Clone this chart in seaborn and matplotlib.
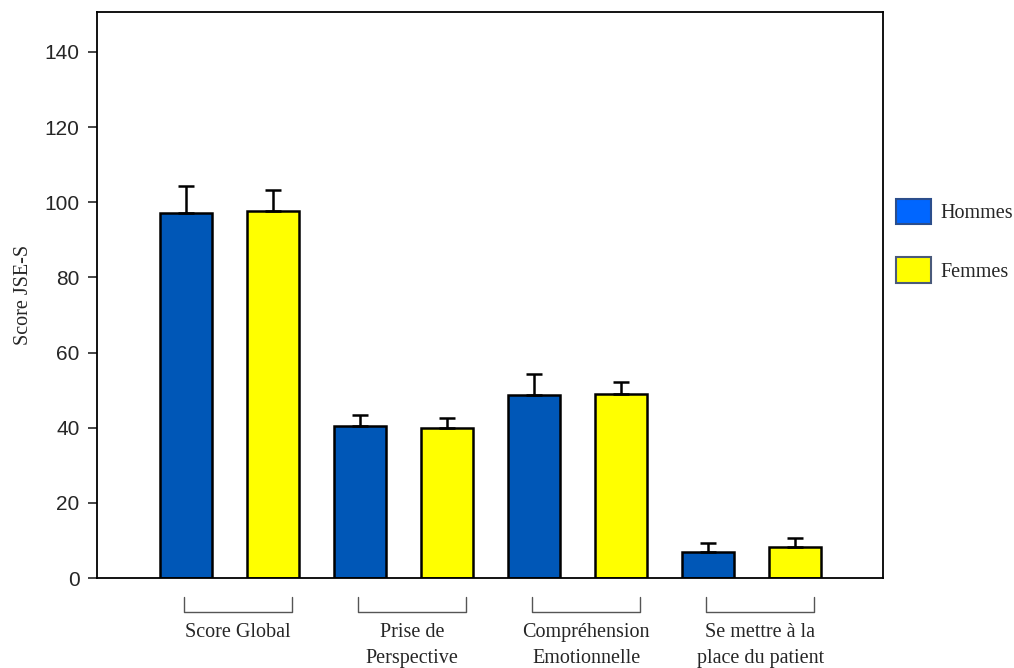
import numpy as np
import pandas as pd
import matplotlib
matplotlib.use("Agg")
import matplotlib.pyplot as plt
from matplotlib.patches import Patch
from matplotlib.transforms import blended_transform_factory
import seaborn as sns

# JSE-S empathy scores by dimension and sex (mean and SD)
dimensions = ["Score Global", "Prise de\nPerspective",
              "Compréhension\nEmotionnelle", "Se mettre à la\nplace du patient"]
groups = ["Hommes", "Femmes"]
hommes_mean = [97.1, 40.5, 48.7, 6.9]
hommes_sd = [7.1, 2.9, 5.6, 2.4]
femmes_mean = [97.7, 39.9, 49.0, 8.3]
femmes_sd = [5.6, 2.7, 3.2, 2.3]
y_ticks = [0, 20, 40, 60, 80, 100, 120, 140]

df = pd.DataFrame({
    "Dimension": dimensions * 2,
    "Sexe": [groups[0]] * 4 + [groups[1]] * 4,
    "Score": hommes_mean + femmes_mean,
})
sds = {groups[0]: hommes_sd, groups[1]: femmes_sd}

sns.set_style("ticks")
plt.rcParams["font.family"] = ["Liberation Serif", "DejaVu Serif"]

bar_blue = "#0057B7"
bar_yellow = "#FFFF00"

fig = plt.figure(figsize=(10.14, 6.68), dpi=100)
ax = fig.add_axes([97 / 1014, 90 / 668, 786 / 1014, 566 / 668])

sns.barplot(data=df, x="Dimension", y="Score", hue="Sexe",
            order=dimensions, hue_order=groups,
            palette=[bar_blue, bar_yellow], saturation=1,
            width=1.0, gap=0.4,
            edgecolor="black", linewidth=1.8, errorbar=None,
            legend=False, ax=ax)

# upward-only SD error bars, placed on each drawn bar
for container, g in zip(ax.containers, groups):
    xs = [b.get_x() + b.get_width() / 2 for b in container]
    hs = [b.get_height() for b in container]
    err = sds[g]
    ax.errorbar(xs, hs, yerr=[np.zeros(len(err)), err], fmt="none",
                ecolor="black", elinewidth=1.8, capsize=6, capthick=1.8,
                zorder=1)

ax.set_ylim(0, 150.6)
ax.set_xlim(-0.76, 3.756)
ax.set_yticks(y_ticks)
ax.set_yticklabels([str(t) for t in y_ticks], family="Liberation Sans",
                   fontsize=15)
ax.tick_params(axis="y", length=6.5, width=1.2, direction="out", pad=6)
ax.set_xticks([])
ax.set_xlabel("")
ax.set_ylabel("Score JSE-S", fontsize=14.5, labelpad=8)
for s in ax.spines.values():
    s.set_visible(True)
    s.set_linewidth(1.3)
    s.set_color("black")

# bracket under each category with its label
trans = blended_transform_factory(ax.transData, ax.transAxes)
shift, half = 0.05, 0.31
for i, name in enumerate(dimensions):
    c = i + shift
    ax.plot([c - half, c - half, c + half, c + half],
            [-0.034, -0.060, -0.060, -0.034], transform=trans,
            color="#555555", lw=1.0, clip_on=False)
    ax.text(c, -0.080, name, transform=trans, ha="center", va="top",
            fontsize=14.5, linespacing=1.45)

handles = [Patch(facecolor="#0066FF", edgecolor="#2B4E8C", linewidth=1.5),
           Patch(facecolor=bar_yellow, edgecolor="#4A5A7A", linewidth=1.5)]
fig.legend(handles, groups, loc="upper left",
           bbox_to_anchor=(896 / 1014, 1 - 199 / 668),
           frameon=False, fontsize=14.5, handlelength=1.75, handleheight=1.55,
           labelspacing=1.65, handletextpad=0.45, borderpad=0,
           borderaxespad=0)

fig.savefig("out.png", dpi=100)
